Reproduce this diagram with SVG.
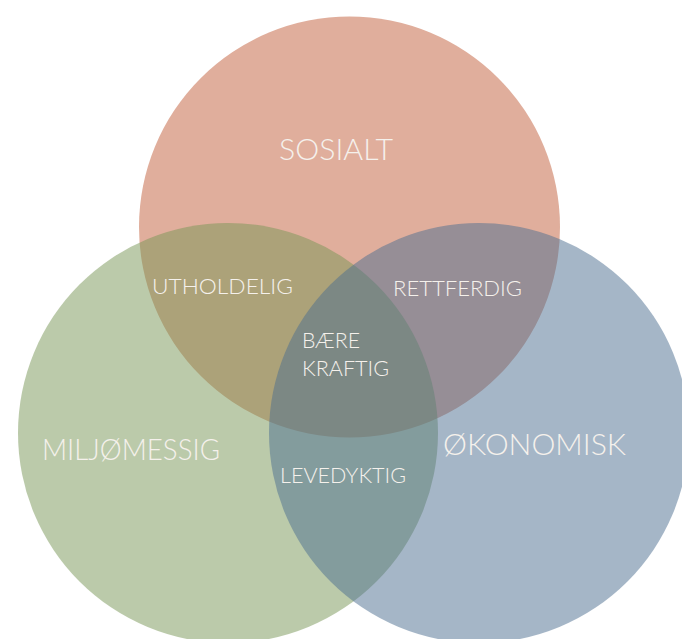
<svg xmlns="http://www.w3.org/2000/svg" width="682" height="639" viewBox="0 0 682 639">
<style>
.lbl{font-family:Lato,"Open Sans","Liberation Sans",sans-serif;font-weight:300;fill:#F5F1EC}
.big{font-size:30px}
.sm{font-size:22px}
</style>
<rect width="682" height="639" fill="#FFFFFF"/>
<g id="sosialt">
<circle cx="349.5" cy="227" r="210.5" fill="#E0AE9C"/>
</g>
<g id="miljomessig">
<circle cx="228" cy="433" r="210" fill="#779555" fill-opacity="0.5"/>
</g>
<g id="okonomisk">
<circle cx="479" cy="433" r="210" fill="#4B6D8F" fill-opacity="0.5"/>
</g>
<g id="labels">
<text class="lbl big" x="279" y="160" textLength="114" lengthAdjust="spacingAndGlyphs">SOSIALT</text>
<text class="lbl big" x="42" y="460" textLength="178" lengthAdjust="spacingAndGlyphs">MILJØMESSIG</text>
<text class="lbl big" x="443" y="455" textLength="183" lengthAdjust="spacingAndGlyphs">ØKONOMISK</text>
<text class="lbl sm" x="152" y="294" textLength="141" lengthAdjust="spacingAndGlyphs">UTHOLDELIG</text>
<text class="lbl sm" x="393" y="296" textLength="129" lengthAdjust="spacingAndGlyphs">RETTFERDIG</text>
<text class="lbl sm" x="302" y="348" textLength="58" lengthAdjust="spacingAndGlyphs">BÆRE</text>
<text class="lbl sm" x="302" y="376" textLength="87" lengthAdjust="spacingAndGlyphs">KRAFTIG</text>
<text class="lbl sm" x="280" y="483" textLength="126" lengthAdjust="spacingAndGlyphs">LEVEDYKTIG</text>
</g>
</svg>
